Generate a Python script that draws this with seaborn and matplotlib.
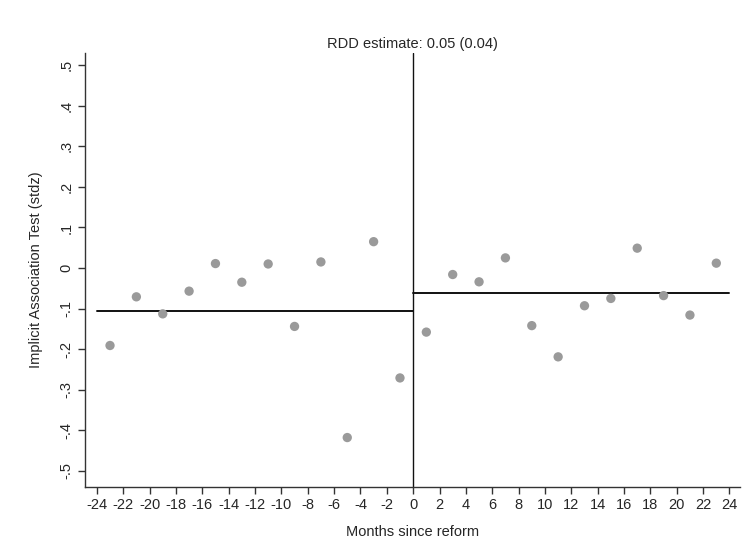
import matplotlib
matplotlib.use("Agg")
import matplotlib.pyplot as plt
import seaborn as sns
import pandas as pd

# Binned means, two-month bins
months_pre = [-23, -21, -19, -17, -15, -13, -11, -9, -7, -5, -3, -1]
iat_pre = [-0.191, -0.071, -0.113, -0.057, 0.011, -0.035, 0.010, -0.144, 0.015, -0.418, 0.065, -0.271]
months_post = [1, 3, 5, 7, 9, 11, 13, 15, 17, 19, 21, 23]
iat_post = [-0.158, -0.016, -0.034, 0.025, -0.142, -0.219, -0.093, -0.075, 0.049, -0.068, -0.116, 0.012]

# Fitted constants on each side of the cutoff
fit_pre_x = [-24, 0]
fit_pre_y = [-0.107, -0.107]
fit_post_x = [0, 24]
fit_post_y = [-0.062, -0.062]

x_ticks = list(range(-24, 25, 2))
y_ticks = [-0.5, -0.4, -0.3, -0.2, -0.1, 0, 0.1, 0.2, 0.3, 0.4, 0.5]

sns.set_theme(style="white")
plt.rcParams["font.family"] = ["Liberation Sans", "DejaVu Sans"]

bins = pd.DataFrame({"month": months_pre + months_post, "iat": iat_pre + iat_post})
fits = pd.DataFrame({
    "month": fit_pre_x + fit_post_x,
    "iat": fit_pre_y + fit_post_y,
    "side": ["pre"] * 2 + ["post"] * 2,
})

fig = plt.figure(figsize=(7.5, 5.53), dpi=100)
ax = fig.add_axes([0.1133, 0.1193, 0.8734, 0.7847])

sns.scatterplot(data=bins, x="month", y="iat", ax=ax, color="#9a9a9a",
                s=45, edgecolor="none", zorder=3)
sns.lineplot(data=fits, x="month", y="iat", units="side", estimator=None,
             ax=ax, color="#111111", linewidth=1.4, zorder=2)
ax.axvline(0, color="#111111", linewidth=1.0, zorder=1)

ax.set_xlim(-24.9, 24.8)
ax.set_ylim(-0.54, 0.53)
ax.set_xticks(x_ticks)
ax.set_xticklabels([str(t) for t in x_ticks], fontsize=10.5)


def stata_fmt(v):
    if abs(v) < 1e-9:
        return "0"
    s = f"{v:.1f}"
    return s.replace("0.", ".")


ax.set_yticks(y_ticks)
ax.set_yticklabels([stata_fmt(v) for v in y_ticks], fontsize=10.5,
                   rotation=90, va="center")

ax.tick_params(axis="both", which="both", direction="out", length=5,
               width=1, color="#333333", left=True, bottom=True, pad=3)

for side in ["top", "right"]:
    ax.spines[side].set_visible(False)
for side in ["left", "bottom"]:
    ax.spines[side].set_color("#333333")
    ax.spines[side].set_linewidth(1.0)

ax.set_xlabel("Months since reform", fontsize=10.5, labelpad=9)
ax.set_ylabel("Implicit Association Test (stdz)", fontsize=10.5, labelpad=12)
ax.set_title("RDD estimate: 0.05 (0.04)", fontsize=10.5, pad=4)

fig.savefig("out.png", dpi=100)
